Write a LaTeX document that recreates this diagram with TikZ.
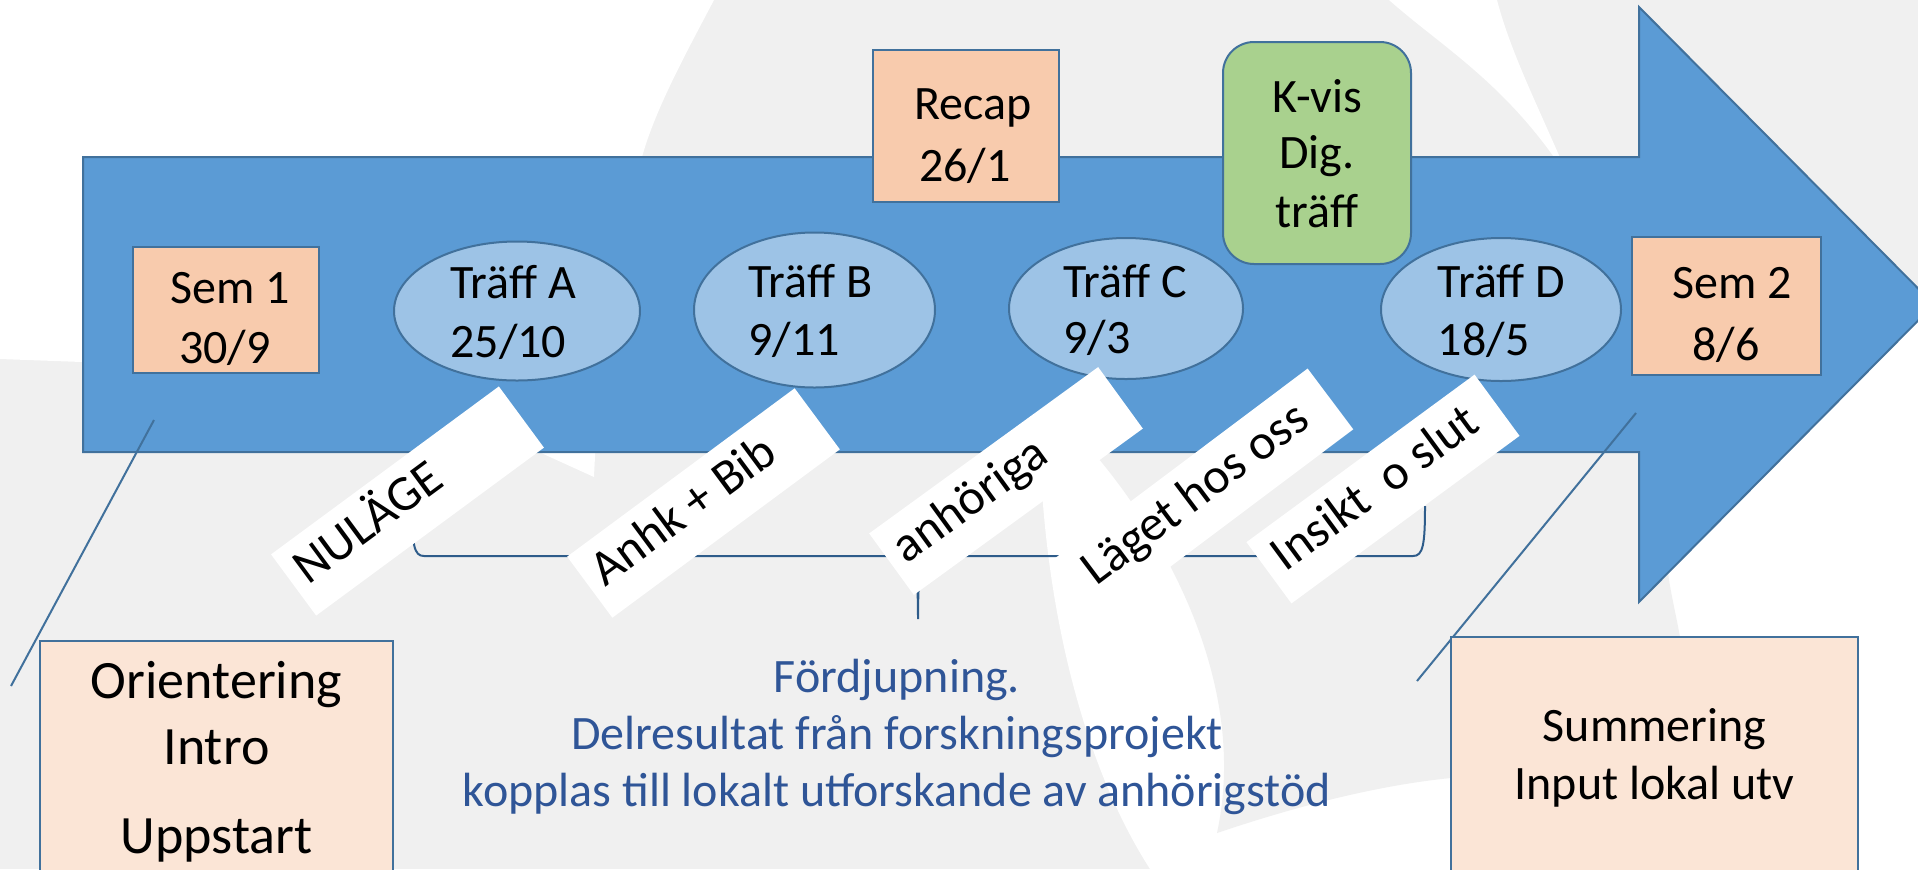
\documentclass[tikz,border=0pt]{standalone}
\usepackage{fontspec}
\setmainfont{Carlito}
\usetikzlibrary{shapes.geometric,calc}
\definecolor{bggray}{HTML}{F0F0F0}
\definecolor{arrowblue}{HTML}{5B9BD5}
\definecolor{olblue}{HTML}{41719C}
\definecolor{ellfill}{HTML}{9DC3E6}
\definecolor{semfill}{HTML}{F8CBAD}
\definecolor{palefill}{HTML}{FBE5D6}
\definecolor{kgreen}{HTML}{A9D18E}
\definecolor{bluetext}{HTML}{2F5597}
\definecolor{bracecol}{HTML}{2E5C8A}
\newcommand{\lbltext}[2]{\raisebox{-4.8pt}[0pt][0pt]{\makebox[#1][l]{#2}}}
\begin{document}
\begin{tikzpicture}[x=0.5pt,y=-0.5pt,
  semb/.style={draw=olblue, fill=semfill, line width=1pt, inner sep=0pt},
  paleb/.style={draw=olblue, fill=palefill, line width=1pt, inner sep=0pt},
  kbox/.style={draw=olblue, fill=kgreen, line width=1pt, inner sep=0pt, rounded corners=15.5pt},
  ell/.style={ellipse, draw=olblue, fill=ellfill, line width=1pt, inner sep=0pt},
  btxt/.style={font=\fontsize{24pt}{28.8pt}\selectfont, inner sep=0pt, anchor=base},
  etxt/.style={font=\fontsize{24pt}{28.8pt}\selectfont, inner sep=0pt, anchor=base west},
  otxt/.style={font=\fontsize{27pt}{32pt}\selectfont, inner sep=0pt, anchor=base},
  bltxt/.style={font=\fontsize{24pt}{28.8pt}\selectfont, text=bluetext, inner sep=0pt, anchor=base},
  lbl/.style={fill=white, minimum width=141.5pt, minimum height=38pt,
    inner xsep=6pt, inner ysep=0pt, font=\fontsize{25pt}{30pt}\selectfont},
  conn/.style={draw=olblue, line width=1pt},
  bracest/.style={draw=bracecol, line width=1pt}
]
\useasboundingbox (0,0) rectangle (1918,869);
\clip (0,0) rectangle (1918,869);
% background
\fill[bggray] (0,0) rectangle (1918,869);
\fill[white] (0,0) -- (714,0) .. controls (685,55) and (655,110) .. (642,157)
  .. controls (615,280) and (598,380) .. (594,477) -- (539,452)
  .. controls (400,390) and (250,365) .. (82,362) -- (0,359) -- cycle;
\fill[white] (1389,0) .. controls (1440,45) and (1500,80) .. (1556,160) -- (1561,160)
  .. controls (1535,100) and (1510,50) .. (1497,0) -- cycle;
\fill[white] (1040,452) .. controls (1045,600) and (1080,760) .. (1150,869) -- (1918,869)
  -- (1918,300) -- (1639,300) -- (1639,452) -- cycle;
\fill[bggray] (1093,452) .. controls (1160,530) and (1250,680) .. (1217,833)
  .. controls (1300,805) and (1380,785) .. (1451,778) -- (1600,660) -- (1680,637)
  .. controls (1675,610) and (1670,590) .. (1668,572) -- (1639,602) -- (1639,452) -- cycle;
% brace
\coordinate (brL) at (412,506);
\coordinate (brM) at (918,619);
\coordinate (brR) at (1425,506);
\draw[bracest] (brL) .. controls (412,545) and (414,556) .. (424,556) -- (906,556)
  .. controls (914,556) and (918,566) .. (brM) .. controls (918,566) and (922,556) .. (930,556)
  -- (1413,556) .. controls (1423,556) and (1425,545) .. (brR);
% big arrow
\draw[fill=arrowblue, draw=olblue, line width=1pt] (83,157) -- (1639,157) -- (1639,7)
  -- (1934,304.5) -- (1639,602) -- (1639,452) -- (83,452) -- cycle;
% lines
\coordinate (s1l) at (154,420);
\coordinate (s1e) at (11,686);
\draw[conn] (s1l) -- (s1e);
\coordinate (s2l) at (1636,413);
\coordinate (s2e) at (1417,681);
\draw[conn] (s2l) -- (s2e);
% boxes
\node[semb, minimum width=93pt, minimum height=63pt] (sem1) at (226,310) {};
\node[btxt] (sem1a) at (230,303) {Sem 1};
\node[btxt] (sem1b) at (225,363) {30/9};
\node[semb, minimum width=93pt, minimum height=76pt] (recap) at (966,126) {};
\node[btxt] (recapa) at (973,119) {Recap};
\node[btxt] (recapb) at (965,181) {26/1};
\node[kbox, minimum width=94pt, minimum height=111pt] (kvis) at (1317,153) {};
\node[btxt] (kvisa) at (1317,112) {K-vis};
\node[btxt] (kvisb) at (1317,168) {Dig.};
\node[btxt] (kvisc) at (1317,227) {träff};
\node[semb, minimum width=94.5pt, minimum height=69pt] (sem2) at (1726.5,306) {};
\node[btxt] (sem2a) at (1732.5,298) {Sem 2};
\node[btxt] (sem2b) at (1726,360) {8/6};
% ellipses
\node[ell, minimum width=123pt, minimum height=69.5pt] (ta) at (517,311) {};
\node[etxt] (taa) at (450,298) {Träff A};
\node[etxt] (tab) at (450,357) {25/10};
\node[ell, minimum width=120.5pt, minimum height=77.5pt] (tb) at (814.5,310) {};
\node[etxt] (tba) at (748,297) {Träff B};
\node[etxt] (tbb) at (748,355) {9/11};
\node[ell, minimum width=117pt, minimum height=70.5pt] (tc) at (1126,308.5) {};
\node[etxt] (tca) at (1063,297) {Träff C};
\node[etxt] (tcb) at (1063,353) {9/3};
\node[ell, minimum width=120pt, minimum height=71.5pt] (td) at (1501,309.5) {};
\node[etxt] (tda) at (1437.5,297) {Träff D};
\node[etxt] (tdb) at (1437.5,355) {18/5};
% rotated labels
\node[lbl, rotate=36.4] (nul) at (407.5,501) {\lbltext{129.5pt}{NULÄGE}};
\node[lbl, rotate=36.5] (anhk) at (703.5,503) {\lbltext{129.5pt}{Anhk + Bib}};
\node[lbl, rotate=36.0] (anh) at (1006,481) {\lbltext{129.5pt}{anhöriga}};
\node[lbl, rotate=36.9, minimum width=160pt, inner xsep=10pt] (lag) at (1202.5,495) {\lbltext{140pt}{Läget hos oss}};
\node[lbl, rotate=36.3, inner xsep=7pt] (ins) at (1383,489) {\lbltext{127.5pt}{Insikt\ \ o slut}};
% bottom boxes
\node[paleb, minimum width=176.5pt, minimum height=119.5pt] (orient) at (216.5,760.5) {};
\node[otxt] (orienta) at (216.5,698) {Orientering};
\node[otxt] (orientb) at (216.5,764) {Intro};
\node[otxt] (orientc) at (216.5,853) {Uppstart};
\node[paleb, minimum width=203.5pt, minimum height=121.5pt] (summ) at (1654.5,758.5) {};
\node[btxt] (summa) at (1654.5,741) {Summering};
\node[btxt] (summb) at (1654.5,799) {Input lokal utv};
% blue text
\node[bltxt] (fa) at (897,692) {Fördjupning.};
\node[bltxt] (fb) at (897,749) {Delresultat från forskningsprojekt};
\node[bltxt] (fc) at (897,806) {kopplas till lokalt utforskande av anhörigstöd};
\end{tikzpicture}
\end{document}
